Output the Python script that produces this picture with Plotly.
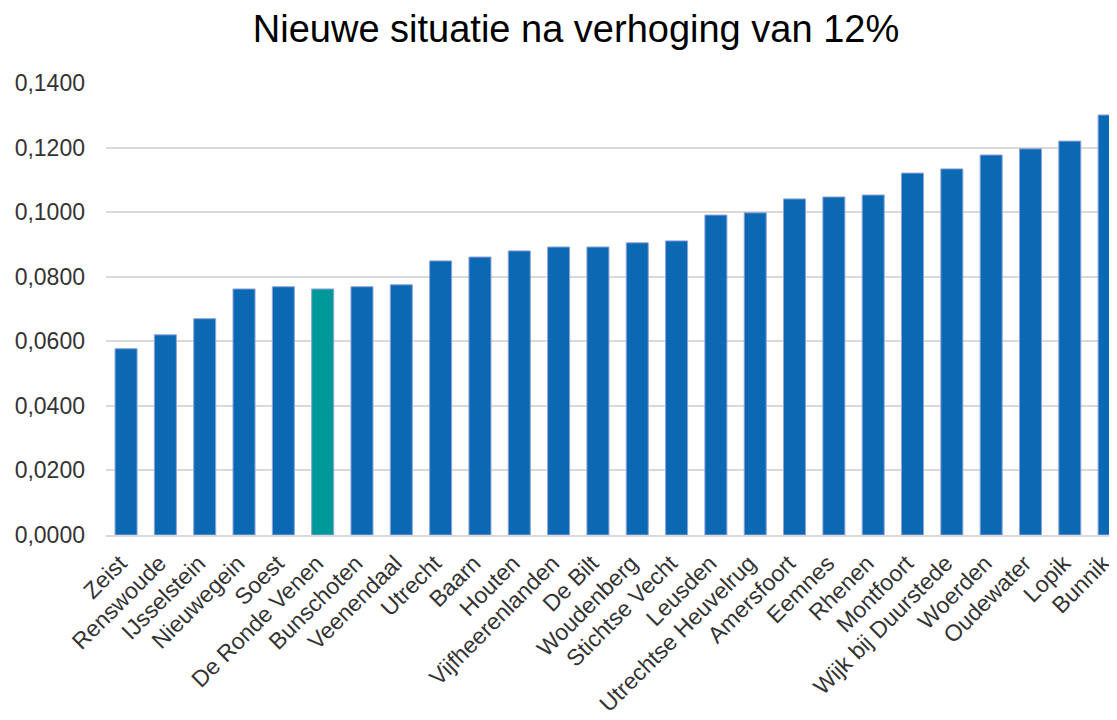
import plotly.graph_objects as go

gemeenten = ["Zeist", "Renswoude", "IJsselstein", "Nieuwegein", "Soest", "De Ronde Venen",
             "Bunschoten", "Veenendaal", "Utrecht", "Baarn", "Houten", "Vijfheerenlanden",
             "De Bilt", "Woudenberg", "Stichtse Vecht", "Leusden", "Utrechtse Heuvelrug",
             "Amersfoort", "Eemnes", "Rhenen", "Montfoort", "Wijk bij Duurstede", "Woerden",
             "Oudewater", "Lopik", "Bunnik"]
waarden = [0.0577, 0.0620, 0.0670, 0.0762, 0.0769, 0.0762,
           0.0769, 0.0775, 0.0849, 0.0861, 0.0880, 0.0892,
           0.0892, 0.0905, 0.0911, 0.0991, 0.0998,
           0.1041, 0.1047, 0.1053, 0.1121, 0.1134, 0.1177,
           0.1196, 0.1220, 0.1301]
highlight = "De Ronde Venen"
y_ticks = [0, 0.02, 0.04, 0.06, 0.08, 0.10, 0.12, 0.14]

blue = "#0B69B4"
teal = "#00999A"
colors = [teal if g == highlight else blue for g in gemeenten]

fig = go.Figure(go.Bar(
    x=gemeenten, y=waarden,
    marker=dict(color=colors, line=dict(color="#8FA3DC", width=1)),
))

# the page adds an 8px body margin; margins below compensate for that offset
fig.update_layout(
    width=1117, height=720,
    paper_bgcolor="white", plot_bgcolor="white",
    margin=dict(l=98, r=8, t=75, b=193, autoexpand=False),
    separators=",.",
    bargap=0.44,
    showlegend=False,
    font=dict(family="Liberation Sans, Arial, sans-serif", color="#333333"),
    title=dict(text="Nieuwe situatie na verhoging van 12%",
               x=568/1117, xref="container", xanchor="center",
               y=1 - 21/720, yref="container", yanchor="middle",
               font=dict(size=38, color="#000000", family="Liberation Sans, Arial, sans-serif")),
)
fig.update_xaxes(
    range=[-0.51, 25.2],
    tickangle=-45,
    tickfont=dict(size=23, color="#333333"),
    showgrid=False,
    showline=True, linecolor="#D9D9D9", linewidth=1.5,
    ticks="",
    ticklabelstandoff=4,
    ticklabelshift=-6,
    automargin=False,
)
fig.update_yaxes(
    range=[0, 0.14],
    tickvals=y_ticks,
    tickformat=".4f",
    tickfont=dict(size=23, color="#333333"),
    showgrid=True, gridcolor="#D9D9D9", gridwidth=1.5,
    zeroline=False,
    showline=False,
    ticklabelstandoff=20,
    automargin=False,
)

fig.write_html("out.html")
